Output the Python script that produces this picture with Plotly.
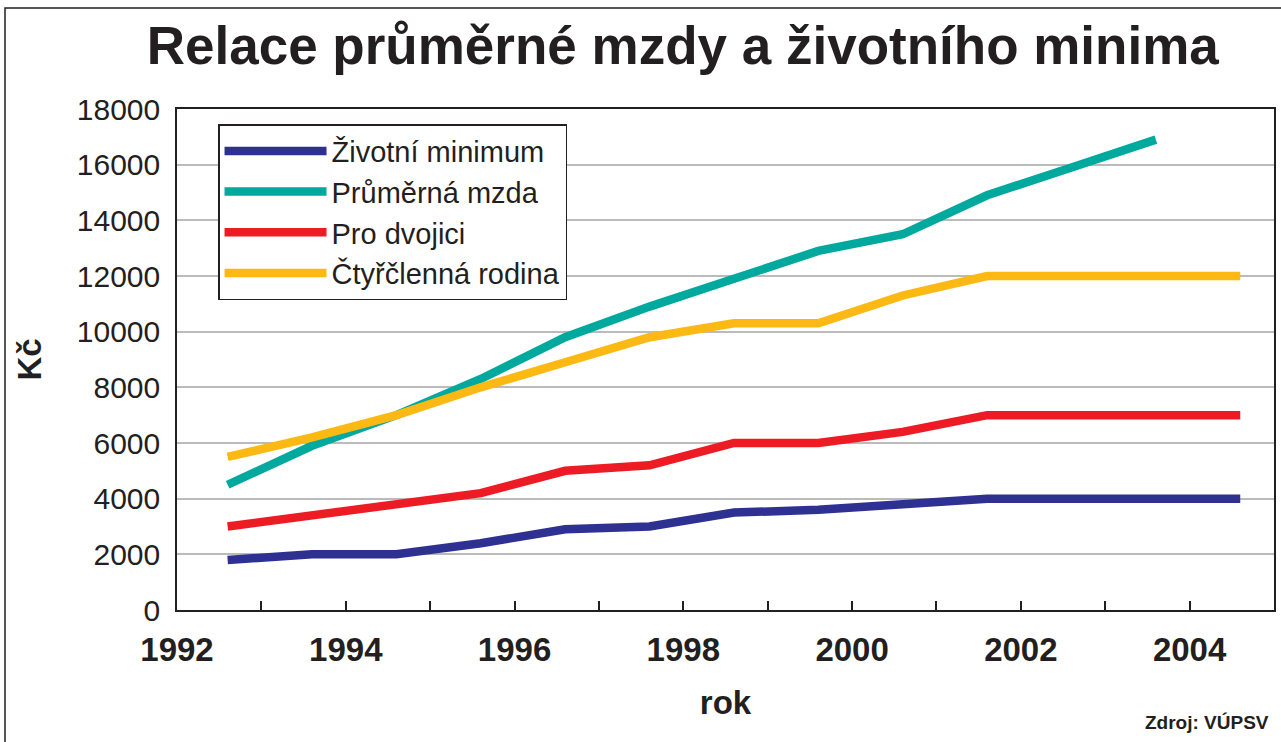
import plotly.graph_objects as go

years = [1992, 1993, 1994, 1995, 1996, 1997, 1998, 1999, 2000, 2001, 2002, 2003, 2004]
x_offset = 0.6  # data points sit inside each year interval

zivotni_minimum = [1800, 2000, 2000, 2400, 2900, 3000, 3500, 3600, 3800, 4000, 4000, 4000, 4000]
prumerna_mzda = [4500, 5900, 7000, 8300, 9800, 10900, 11900, 12900, 13500, 14900, 15900, 16900]
pro_dvojici = [3000, 3400, 3850, 4200, 5000, 5200, 6000, 6000, 6400, 7000, 7000, 7000, 7000]
ctyrclenna_rodina = [5500, 6200, 7000, 8000, 8900, 9800, 10300, 10300, 11300, 12000, 12000, 12000, 12000]

series = [
    ("Životní minimum", zivotni_minimum, "#2E3192"),
    ("Průměrná mzda", prumerna_mzda, "#00A99D"),
    ("Pro dvojici", pro_dvojici, "#ED1C24"),
    ("Čtyřčlenná rodina", ctyrclenna_rodina, "#FDB913"),
]

tick_years = list(range(1992, 2006))
tick_text = [str(y) if y % 2 == 0 and y < 2005 else "" for y in tick_years]

FONT = "Liberation Sans, Arial, Helvetica, sans-serif"

fig = go.Figure()
for name, vals, color in series:
    xs = [y + x_offset for y in years[:len(vals)]]
    fig.add_trace(go.Scatter(
        x=xs, y=vals, name=name, mode="lines", legendgroup=name,
        line=dict(color=color, width=8.5),
    ))

fig.update_layout(
    width=1281, height=742,
    margin=dict(l=177, r=7, t=109, b=132, autoexpand=False),
    paper_bgcolor="white", plot_bgcolor="white",
    font=dict(family=FONT, color="#231F20"),
    title=dict(
        text="<b>Relace průměrné mzdy a životního minima</b>",
        x=0.533, xanchor="center", y=1 - 45 / 742, yanchor="middle",
        yref="container", font=dict(size=53, color="#231F20"),
    ),
    showlegend=True,
    legend=dict(
        x=0.0374, y=0.970, xanchor="left", yanchor="top",
        bgcolor="white", bordercolor="#231F20", borderwidth=1.5,
        font=dict(size=29, color="#231F20"),
        tracegroupgap=0, itemwidth=102,
        entrywidth=245, entrywidthmode="pixels",
    ),
    xaxis=dict(
        range=[1992, 2005], tickmode="array", tickvals=tick_years, ticktext=tick_text,
        ticks="inside", ticklen=9, tickwidth=1.5, tickcolor="#231F20",
        showline=True, linecolor="#231F20", linewidth=1.5, mirror=True,
        showgrid=False, zeroline=False, automargin=False,
        tickfont=dict(size=33, family=FONT, color="#231F20", weight="bold"),
        ticklabelstandoff=10,
        title=dict(text="<b>rok</b>", font=dict(size=33, color="#231F20"), standoff=24),
    ),
    yaxis=dict(
        range=[0, 18000], dtick=2000, tickformat="d",
        showline=True, linecolor="#231F20", linewidth=1.5, mirror=True,
        showgrid=True, gridcolor="#BBBBBB", gridwidth=1.5, zeroline=False, automargin=False,
        tickfont=dict(size=30, color="#231F20"),
        ticklabelstandoff=9,
        title=dict(text="<b>Kč</b>", font=dict(size=33, color="#231F20"), standoff=25),
    ),
    shapes=[dict(
        type="rect", xref="paper", yref="paper",
        x0=(5 - 177) / 1097, x1=1.2, y0=-0.5, y1=(610 - 8) / 501,
        line=dict(color="#231F20", width=1.5), fillcolor="rgba(0,0,0,0)", layer="below",
    )],
    annotations=[dict(
        text="<b>Zdroj: VÚPSV</b>", xref="paper", yref="paper",
        x=(1271 - 177) / 1097, y=(610 - 722) / 501, xanchor="right", yanchor="middle",
        showarrow=False, font=dict(size=19, color="#231F20"),
    )],
)

fig.write_html("out.html", config={"displayModeBar": False},
               post_script="document.body.style.margin='0';")
